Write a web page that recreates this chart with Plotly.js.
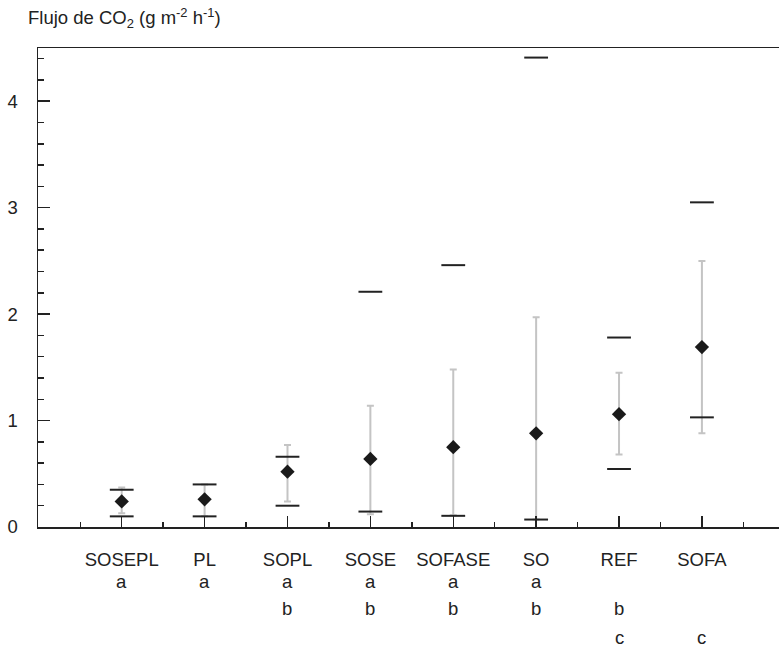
<!DOCTYPE html>
<html>
<head>
<meta charset="utf-8">
<script src="https://cdn.plot.ly/plotly-3.0.1.min.js"></script>
<style>html,body{margin:0;padding:0;background:#fff;}#chart{width:779px;height:649px;}</style>
</head>
<body>
<div id="chart"></div>
<script>
// ---- data ----
const categories = ["SOSEPL", "PL", "SOPL", "SOSE", "SOFASE", "SO", "REF", "SOFA"];
const meanVals   = [0.24, 0.26, 0.52, 0.64, 0.75, 0.88, 1.06, 1.69];
const greyUpper  = [0.37, 0.40, 0.77, 1.14, 1.48, 1.97, 1.45, 2.50];
const greyLower  = [0.13, 0.10, 0.24, 0.12, 0.11, 0.07, 0.68, 0.88];
const maxVals    = [0.35, 0.40, 0.66, 2.21, 2.46, 4.41, 1.78, 3.05];
const minVals    = [0.10, 0.10, 0.20, 0.145, 0.105, 0.07, 0.545, 1.03];
const groupLetters = ["a", "a", "ab", "ab", "ab", "ab", "bc", "c"];
const yTicks = [0, 1, 2, 3, 4];

// ---- build ----
const xs = categories.map((_, i) => i + 1);
const FONT = "Liberation Sans, Arial, Helvetica, sans-serif";
const INK = "#222222";
const FS = 18.5;

const greyTrace = {
  x: xs, y: meanVals, type: "scatter", mode: "markers",
  marker: {opacity: 0, size: 1},
  error_y: {
    type: "data", symmetric: false,
    array: greyUpper.map((u, i) => u - meanVals[i]),
    arrayminus: greyLower.map((l, i) => meanVals[i] - l),
    color: "#c4c4c4", thickness: 2, width: 3.5
  },
  hoverinfo: "skip", showlegend: false
};
const maxTrace = {
  x: xs, y: maxVals, type: "scatter", mode: "markers",
  marker: {symbol: "line-ew", size: 17, line: {width: 2, color: INK}, color: INK},
  showlegend: false
};
const minTrace = {
  x: xs, y: minVals, type: "scatter", mode: "markers",
  marker: {symbol: "line-ew", size: 17, line: {width: 2, color: INK}, color: INK},
  showlegend: false
};
const meanTrace = {
  x: xs, y: meanVals, type: "scatter", mode: "markers",
  marker: {symbol: "diamond", size: 11, color: "#1a1a1a", line: {width: 0}},
  showlegend: false
};

// letter rows below axis (pixel rows converted to paper fraction)
const plotTop = 48.3, plotBottom = 527.3, plotH = plotBottom - plotTop;
const rowPx = {a: 582, b: 609, c: 638};
const annotations = [];
groupLetters.forEach((g, i) => {
  g.split("").forEach(ch => {
    annotations.push({
      x: xs[i], xref: "x", y: (plotBottom - rowPx[ch]) / plotH, yref: "paper",
      text: ch, showarrow: false, xanchor: "center", yanchor: "middle",
      font: {family: FONT, size: FS, color: INK}
    });
  });
});

const minorX = [];
for (let i = 0; i <= 8; i++) minorX.push(i + 0.5);

const layout = {
  width: 779, height: 649,
  margin: {l: 37.5, r: 0, t: plotTop, b: 649 - plotBottom},
  paper_bgcolor: "#ffffff", plot_bgcolor: "#ffffff",
  font: {family: FONT, size: FS, color: INK},
  title: {
    text: "Flujo de CO<sub>2</sub> (g m<sup>-2</sup> h<sup>-1</sup>)",
    x: 28 / 779, xref: "container", xanchor: "left",
    y: 1 - 18 / 649, yref: "container", yanchor: "middle",
    font: {family: FONT, size: FS, color: INK}
  },
  xaxis: {
    range: [-0.01, 8.93], showgrid: false, zeroline: false,
    showline: true, linecolor: INK, linewidth: 1.5, mirror: true,
    tickmode: "array", tickvals: xs, ticktext: categories,
    ticks: "inside", ticklen: 11, tickwidth: 1.5, tickcolor: INK,
    ticklabelstandoff: 15,
    minor: {tickmode: "array", tickvals: minorX, ticks: "inside", ticklen: 5.5, tickwidth: 1.5, tickcolor: INK, showgrid: false},
    tickfont: {family: FONT, size: FS, color: INK},
    fixedrange: true
  },
  yaxis: {
    range: [0, 4.5], showgrid: false, zeroline: false,
    showline: true, linecolor: INK, linewidth: 1.5, mirror: false,
    tickmode: "array", tickvals: yTicks, ticktext: yTicks.map(String),
    ticks: "inside", ticklen: 12, tickwidth: 1.5, tickcolor: INK,
    ticklabelstandoff: 15,
    minor: {dtick: 0.2, ticks: "inside", ticklen: 6, tickwidth: 1.5, tickcolor: INK, showgrid: false},
    tickfont: {family: FONT, size: FS, color: INK},
    fixedrange: true
  },
  annotations: annotations,
  showlegend: false
};

Plotly.newPlot("chart", [greyTrace, maxTrace, minTrace, meanTrace], layout, {staticPlot: true, displayModeBar: false});
</script>
</body>
</html>
